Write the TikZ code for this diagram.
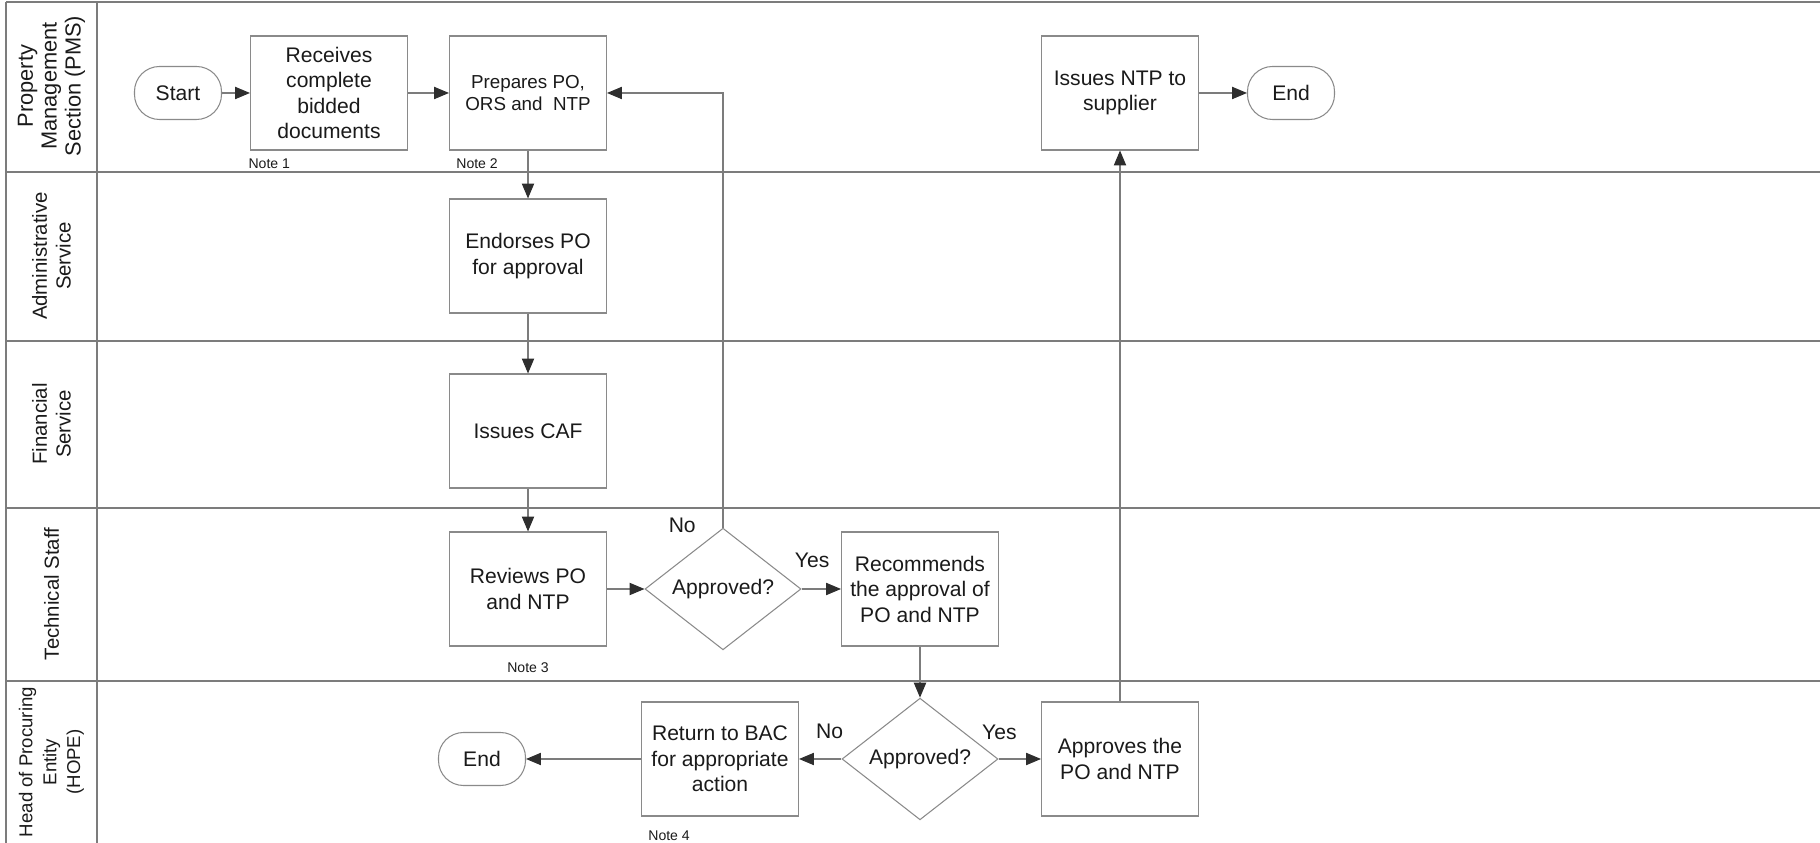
\documentclass[tikz,border=0pt]{standalone}
\usepackage{fontspec}
\setmainfont{Liberation Sans}
\usepackage{xcolor}
\usepackage{tikz}
\usetikzlibrary{
  arrows.meta, shapes.geometric, positioning
}
\definecolor{C_LINE}{HTML}{7C7C7C}
\definecolor{C_BOX} {HTML}{8A8A8A}
\definecolor{C_TIP} {HTML}{2E2E2E}
\definecolor{C_TXT} {HTML}{1A1A1A}
\tikzset{
  %% -- swimlane rules --
  swim/rule/.style={draw=C_LINE, line width=0.6pt},
  %% -- swimlane titles (rotated) --
  swim/title/.style={
    rotate=90, align=center, text=C_TXT, inner sep=0pt,
    font=\fontsize{11.6}{13.6}\selectfont
  },
  %% -- process box --
  flow/proc/.style={
    draw=C_BOX, line width=0.6pt,
    minimum width=3.14cm, minimum height=2.28cm, inner sep=1pt,
    align=center, text=C_TXT, font=\fontsize{12}{14.5}\selectfont
  },
  %% -- start / end terminal --
  flow/term/.style={
    draw=C_BOX, line width=0.6pt, rounded corners=0.5cm,
    minimum width=1.74cm, minimum height=1.06cm,
    align=center, text=C_TXT, font=\fontsize{12}{14.5}\selectfont
  },
  %% -- decision --
  flow/dec/.style={
    diamond, draw=C_BOX, line width=0.6pt,
    minimum width=3.12cm, minimum height=2.22cm, inner sep=0pt,
    text=C_TXT, font=\fontsize{12}{14.5}\selectfont
  },
  %% -- connector --
  flow/arr/.style={
    -{Triangle[length=8.5pt, width=7pt, color=C_TIP]},
    draw=C_LINE, line width=0.6pt
  },
  %% -- branch label --
  flow/lbl/.style={inner sep=1pt, text=C_TXT, font=\fontsize{12}{14}\selectfont},
  %% -- note reference --
  flow/note/.style={inner sep=1pt, text=C_TXT, font=\fontsize{8}{9.5}\selectfont},
}

\begin{document}
\begin{tikzpicture}[x=1cm, y=1cm]
\useasboundingbox (0,0) rectangle (36.4,16.86);

%% Lanes
\draw[swim/rule] (0.12,16.82) -- (36.4,16.82);
\foreach \yy in {13.42, 10.04, 6.70, 3.24}
  \draw[swim/rule] (0.12,\yy) -- (36.4,\yy);
\draw[swim/rule] (0.12,0) -- (0.12,16.82);
\draw[swim/rule] (1.94,0) -- (1.94,16.82);

%% Lane titles
\node[swim/title, font=\fontsize{12.4}{13.6}\selectfont]
                  (tPMS)  at (1.03,15.14) {Property\\Management\\Section (PMS)};
\node[swim/title] (tAS)   at (1.03,11.74) {Administrative\\Service};
\node[swim/title] (tFS)   at (1.03,8.38)  {Financial\\Service};
\node[swim/title] (tTS)   at (1.03,4.98)  {Technical Staff};
\node[swim/title, font=\fontsize{10.6}{13.6}\selectfont]
                  (tHOPE) at (1.03,1.62)  {Head of Procuring\\Entity\\(HOPE)};

%% Nodes
\node[flow/term] (start)   at (3.56,15.0)  {Start};
\node[flow/proc] (recv)    at (6.58,15.0)  {Receives\\complete\\bidded\\documents};
\node[flow/proc, font=\fontsize{10.7}{12.3}\selectfont]
                 (prep)    at (10.56,15.0) {Prepares PO,\\ORS and~ NTP};
\node[flow/proc] (ntp)     at (22.40,15.0) {Issues NTP to\\supplier};
\node[flow/term] (end1)    at (25.82,15.0) {End};
\node[flow/proc] (endorse) at (10.56,11.74) {Endorses PO\\for approval};
\node[flow/proc] (caf)     at (10.56,8.24)  {Issues CAF};
\node[flow/proc] (review)  at (10.56,5.08)  {Reviews PO\\and NTP};
\node[flow/dec]  (dec1)    at (14.46,5.08)  {Approved?};
\node[flow/proc] (recomm)  at (18.40,5.08)  {Recommends\\the approval of\\PO and NTP};
\node[flow/dec]  (dec2)    at (18.40,1.68)  {Approved?};
\node[flow/proc] (approve) at (22.40,1.68)  {Approves the\\PO and NTP};
\node[flow/proc] (retbac)  at (14.40,1.68)  {Return to BAC\\for appropriate\\action};
\node[flow/term] (end2)    at (9.64,1.68)   {End};

%% Notes
\node[flow/note, below right=3.5pt and -2pt of recv.south west] (note1) {Note 1};
\node[flow/note, below right=3.5pt and 3pt of prep.south west]  (note2) {Note 2};
\node[flow/note, below=0.28cm of review]                         (note3) {Note 3};
\node[flow/note, below right=7pt and 3pt of retbac.south west]  (note4) {Note 4};

%% Main flow
\draw[flow/arr] (start) -- (recv);
\draw[flow/arr] (recv) -- (prep);
\draw[flow/arr] (prep) -- (endorse);
\draw[flow/arr] (endorse) -- (caf);
\draw[flow/arr] (caf) -- (review);
\draw[flow/arr] (review) -- (dec1);

%% Technical staff decision
\draw[flow/arr] (dec1) -- node[flow/lbl, above=11pt, pos=0.27]{Yes} (recomm);
\draw[flow/arr] (dec1.north) |-
  node[flow/lbl, pos=0, above left, xshift=-0.5cm, yshift=-4pt]{No} (prep.east);
\draw[flow/arr] (recomm) -- (dec2);

%% HOPE decision
\draw[flow/arr] (dec2) -- node[flow/lbl, above=10pt, pos=0.28]{No} (retbac);
\draw[flow/arr] (retbac) -- (end2);
\draw[flow/arr] (dec2) -- node[flow/lbl, above=9.5pt, pos=0.02]{Yes} (approve);
\draw[flow/arr] (approve) -- (ntp);
\draw[flow/arr] (ntp) -- (end1);
\end{tikzpicture}
\end{document}
